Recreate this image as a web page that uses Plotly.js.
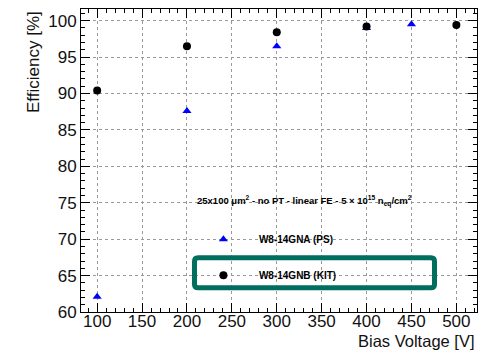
<!DOCTYPE html>
<html><head><meta charset="utf-8">
<script src="https://cdn.plot.ly/plotly-3.0.1.min.js"></script>
<style>html,body{margin:0;padding:0;background:#fff}#c{width:489px;height:350px}</style>
</head><body><div id="c"></div>
<script>
const psVoltage = [100, 200, 300, 400, 450];
const psEfficiency = [62.1, 87.6, 96.5, 99.0, 99.5];
const kitVoltage = [100, 200, 300, 400, 500];
const kitEfficiency = [90.4, 96.5, 98.4, 99.2, 99.4];
const psName = 'W8-14GNA (PS)';
const kitName = 'W8-14GNB (KIT)';
const headerText = '25x100 \u03bcm<sup>2</sup> - no PT - linear FE - 5 \u00d7 10<sup>15</sup> n<sub>eq</sub>/cm<sup>2</sup>';
const xTitle = 'Bias Voltage [V]';
const yTitle = 'Efficiency [%]';

const FONT = 'Liberation Sans, Arial, Helvetica, sans-serif';
const traces = [
  {x: psVoltage, y: psEfficiency, name: psName, type: 'scatter', mode: 'markers',
   marker: {symbol: 'triangle-up', color: '#0000ff', size: 8}, legend: 'legend'},
  {x: kitVoltage, y: kitEfficiency, name: kitName, type: 'scatter', mode: 'markers',
   marker: {symbol: 'circle', color: '#000000', size: 8}, legend: 'legend2'}
];
const axisCommon = {
  showline: true, linecolor: '#000', linewidth: 1, mirror: 'ticks',
  ticks: 'inside', ticklen: 9, tickcolor: '#000', tickwidth: 1,
  showgrid: true, gridcolor: '#9a9a9a', griddash: 'dot', gridwidth: 1,
  zeroline: false, tickfont: {family: FONT, size: 17, color: '#111'},
};
// rounded rectangle path in paper coordinates
const bx0 = 0.2866, bx1 = 0.8927, by0 = 0.0799, by1 = 0.179, rx = 0.009, ry = 0.012;
const boxPath = `M ${bx0+rx} ${by0} L ${bx1-rx} ${by0} Q ${bx1} ${by0} ${bx1} ${by0+ry} L ${bx1} ${by1-ry} Q ${bx1} ${by1} ${bx1-rx} ${by1} L ${bx0+rx} ${by1} Q ${bx0} ${by1} ${bx0} ${by1-ry} L ${bx0} ${by0+ry} Q ${bx0} ${by0} ${bx0+rx} ${by0} Z`;
const layout = {
  width: 489, height: 350,
  margin: {l: 81, r: 12, t: 9, b: 38},
  paper_bgcolor: '#fff', plot_bgcolor: '#fff',
  font: {family: FONT, color: '#000'},
  xaxis: Object.assign({}, axisCommon, {range: [82, 523], dtick: 50, tick0: 0, ticklabelstandoff: -6,
    minor: {dtick: 10, ticklen: 4, ticks: 'inside', tickcolor: '#000', showgrid: false}}),
  yaxis: Object.assign({}, axisCommon, {range: [60, 101.6], dtick: 5, tick0: 0,
    minor: {dtick: 1, ticklen: 4, ticks: 'inside', tickcolor: '#000', showgrid: false}}),
  legend: {x: 0.270, y: 0.24, xanchor: 'left', yanchor: 'middle', bgcolor: 'rgba(0,0,0,0)', itemwidth: 61,
    font: {family: FONT, size: 10, color: '#000', weight: 'bold'}},
  legend2: {x: 0.270, y: 0.121, xanchor: 'left', yanchor: 'middle', bgcolor: 'rgba(0,0,0,0)', itemwidth: 61,
    font: {family: FONT, size: 10, color: '#000', weight: 'bold'}},
  showlegend: true,
  annotations: [
    {text: headerText, xref: 'paper', yref: 'paper', x: 0.565, y: 0.365, showarrow: false,
     font: {family: FONT, size: 9.5, color: '#000', weight: 'bold'}},
    {text: xTitle, xref: 'paper', yref: 'paper', x: 1, y: 0, yshift: -29, xanchor: 'right', yanchor: 'middle',
     showarrow: false, font: {family: FONT, size: 16.5, color: '#111'}},
    {text: yTitle, xref: 'paper', yref: 'paper', x: 0, xshift: -48, y: 1, yanchor: 'top', xanchor: 'center',
     textangle: -90, showarrow: false, font: {family: FONT, size: 17, color: '#111'}}
  ],
  shapes: [
    {type: 'path', xref: 'paper', yref: 'paper', path: boxPath,
     line: {color: '#006e5e', width: 5}, fillcolor: 'rgba(0,0,0,0)', layer: 'above'}
  ]
};
Plotly.newPlot('c', traces, layout, {staticPlot: true});
</script></body></html>
